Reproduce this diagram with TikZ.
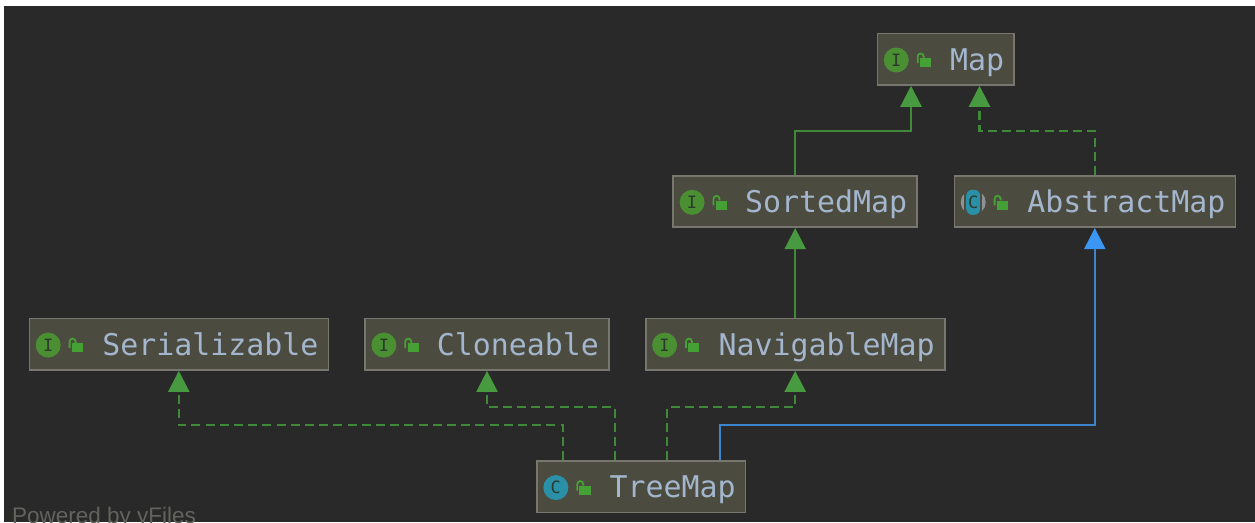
\documentclass[tikz,border=0pt]{standalone}
\usepackage{fontspec}
\setmainfont{Liberation Sans}
\newfontfamily\umlfont{DejaVu Sans Mono}
\usetikzlibrary{arrows.meta,positioning}
\definecolor{canvasbg}{HTML}{292929}
\definecolor{boxfill}{HTML}{4C4B3F}
\definecolor{boxline}{HTML}{77776F}
\definecolor{nametext}{HTML}{A3B6CD}
\definecolor{implgreen}{HTML}{479A3F}
\definecolor{linegreen}{HTML}{41893A}
\definecolor{extblue}{HTML}{3C96F4}
\definecolor{extline}{HTML}{3C84CC}
\definecolor{ifacegreen}{HTML}{4A8F32}
\definecolor{lockgreen}{HTML}{45A035}
\definecolor{classteal}{HTML}{2A90A8}
\definecolor{lettergray}{HTML}{2B3A2A}
\definecolor{ringgray}{HTML}{8E9295}

\begin{document}
\begin{tikzpicture}
      [x=1pt, y=-1pt,
      umlbox/.style={draw=boxline, fill=boxfill, line width=1.6pt, text=nametext,
        font=\umlfont\fontsize{29.9}{32}\selectfont, inner xsep=10pt, inner ysep=0pt,
        minimum height=51.5pt, text height=27pt, text depth=5pt, align=right, text width=#1},
      iconbase/.style={circle, minimum size=25pt, inner sep=0pt, text=lettergray,
        font=\umlfont\fontsize{17}{17}\selectfont},
      ifaceicon/.style={iconbase, fill=ifacegreen},
      classicon/.style={iconbase, fill=classteal},
      lockicon/.pic={
        \fill[lockgreen] (0,-1.7) rectangle (11.2,7.3);
        \draw[lockgreen, line width=1.8pt] (-2.2,3) -- (-2.2,-3.5) arc[start angle=180, end angle=360, radius=3] -- (3.8,-2);
      },
      impl/.style={draw=linegreen, line width=2.2pt, -{Triangle[width=21pt, length=21pt, color=implgreen]}},
      realize/.style={impl, dash pattern=on 9pt off 5.2pt},
      extend/.style={draw=extline, line width=2.2pt, -{Triangle[width=21pt, length=21pt, color=extblue]}},
      ]
      \useasboundingbox (0,0) rectangle (1255,522);
      \fill[white] (0,0) rectangle (1255,522);
      \fill[canvasbg] (4,6) rectangle (1255,522);

      \node[umlbox=116.7pt] (Map) at (945.7,59.2) {Map};
      \node[umlbox=224pt] (SortedMap) at (795.2,201.5) {SortedMap};
      \node[umlbox=261pt] (AbstractMap) at (1094.8,201.5) {AbstractMap};
      \node[umlbox=279pt] (Serializable) at (178.8,344.3) {Serializable};
      \node[umlbox=224pt] (Cloneable) at (487,344.3) {Cloneable};
      \node[umlbox=279pt] (NavigableMap) at (795.2,344.3) {NavigableMap};
      \node[umlbox=188.7pt] (TreeMap) at (641.3,486.8) {TreeMap};
      \node[anchor=base west, inner sep=0pt, text=boxline!75!canvasbg, font=\fontsize{22.5}{24}\selectfont] (PoweredBy) at (12,523) {Powered by yFiles};

      \foreach \iname in {Map, SortedMap, Serializable, Cloneable, NavigableMap}{
        \node[ifaceicon, right=7pt of \iname.west, yshift=-0.8pt] (\iname Icon) {I};
        \pic at ([xshift=10.9pt]\iname Icon.east) {lockicon};
      }
      \node[classicon, right=7pt of TreeMap.west, yshift=-0.8pt] (TreeMapIcon) {C};
      \pic at ([xshift=10.9pt]TreeMapIcon.east) {lockicon};

      \node[iconbase, fill=ringgray, right=7pt of AbstractMap.west, yshift=-0.8pt] (AbstractMapIcon) {};
      \fill[boxfill] ([xshift=-9pt, yshift=-12.5pt]AbstractMapIcon.center) rectangle ([xshift=9pt, yshift=12.5pt]AbstractMapIcon.center);
      \fill[classteal, rounded corners=6pt] ([xshift=-7pt, yshift=-12.5pt]AbstractMapIcon.center) rectangle ([xshift=7pt, yshift=12.5pt]AbstractMapIcon.center);
      \node[iconbase, text=lettergray] at (AbstractMapIcon.center) {C};
      \pic at ([xshift=10.9pt]AbstractMapIcon.east) {lockicon};

      \draw[impl] (SortedMap.north) -- ++(0,-44) -| ([xshift=-34.7pt]Map.south);
      \draw[realize] (AbstractMap.north) -- ++(0,-44) -| ([xshift=33.8pt]Map.south);
      \draw[impl] (NavigableMap.north) to (SortedMap.south);
      \draw[extend] ([xshift=78.7pt]TreeMap.north) -- ++(0,-35) -| (AbstractMap.south);
      \draw[realize] ([xshift=-78.3pt]TreeMap.north) -- ++(0,-35) -| (Serializable.south);
      \draw[realize] ([xshift=-26.3pt]TreeMap.north) -- ++(0,-53) -| (Cloneable.south);
      \draw[realize] ([xshift=25.7pt]TreeMap.north) -- ++(0,-53) -| (NavigableMap.south);
    \end{tikzpicture}
\end{document}
